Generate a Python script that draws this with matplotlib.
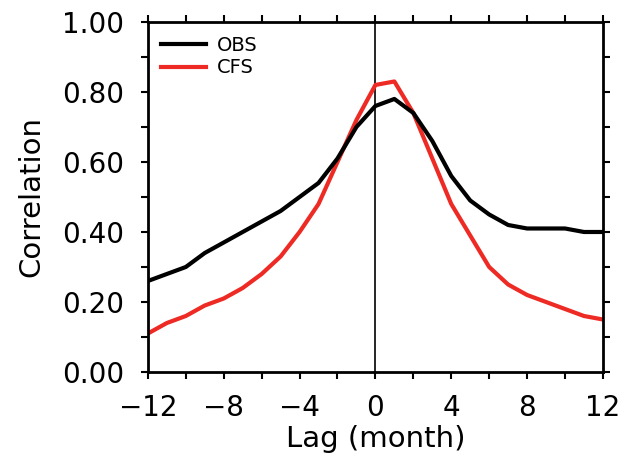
import numpy as np
import matplotlib
matplotlib.use('Agg')
import matplotlib.pyplot as plt
from matplotlib.ticker import MultipleLocator

plt.rcParams['font.family'] = ['DejaVu Sans']

lag = np.arange(-12, 13)
obs = [0.26, 0.28, 0.30, 0.34, 0.37, 0.40, 0.43, 0.46, 0.50, 0.54, 0.61, 0.70, 0.76,
       0.78, 0.74, 0.66, 0.56, 0.49, 0.45, 0.42, 0.41, 0.41, 0.41, 0.40, 0.40]
cfs = [0.11, 0.14, 0.16, 0.19, 0.21, 0.24, 0.28, 0.33, 0.40, 0.48, 0.60, 0.72, 0.82,
       0.83, 0.74, 0.61, 0.48, 0.39, 0.30, 0.25, 0.22, 0.20, 0.18, 0.16, 0.15]

xticks = [-12, -8, -4, 0, 4, 8, 12]
xlabels = ['\u221212', '\u22128', '\u22124', '0', '4', '8', '12']
yticks = [0.0, 0.2, 0.4, 0.6, 0.8, 1.0]

fig = plt.figure(figsize=(6.32, 4.67), dpi=100)
ax = fig.add_axes([0.234, 0.2034, 0.72, 0.7496])

ax.axvline(0, color='black', lw=1.2, zorder=1)
ax.plot(lag, obs, color='black', lw=3.0, label='OBS', zorder=3)
ax.plot(lag, cfs, color='#ee2a24', lw=3.0, label='CFS', zorder=2)

ax.set_xlim(-12, 12)
ax.set_ylim(0, 1)
ax.set_xticks(xticks)
ax.set_xticklabels(xlabels)
ax.xaxis.set_minor_locator(MultipleLocator(2))
ax.set_yticks(yticks)
ax.set_yticklabels(['%.2f' % v for v in yticks])
ax.yaxis.set_minor_locator(MultipleLocator(0.1))

ax.tick_params(which='both', direction='out', length=5, width=1.5,
               top=True, right=True)
ax.tick_params(axis='both', which='major', labelsize=20)
ax.tick_params(axis='x', which='major', pad=11)
ax.tick_params(axis='y', which='major', pad=12)
for s in ax.spines.values():
    s.set_linewidth(2.0)

ax.set_xlabel('Lag (month)', fontsize=21)
ax.set_ylabel('Correlation', fontsize=21)
ax.xaxis.set_label_coords(0.5, -0.15)
ax.yaxis.set_label_coords(-0.225, 0.5)

leg = ax.legend(loc='upper left', frameon=False, fontsize=14, handlelength=2.3,
                handletextpad=0.55, labelspacing=0.2, borderpad=0.0,
                borderaxespad=0.7)

fig.savefig('out.png', dpi=100)
